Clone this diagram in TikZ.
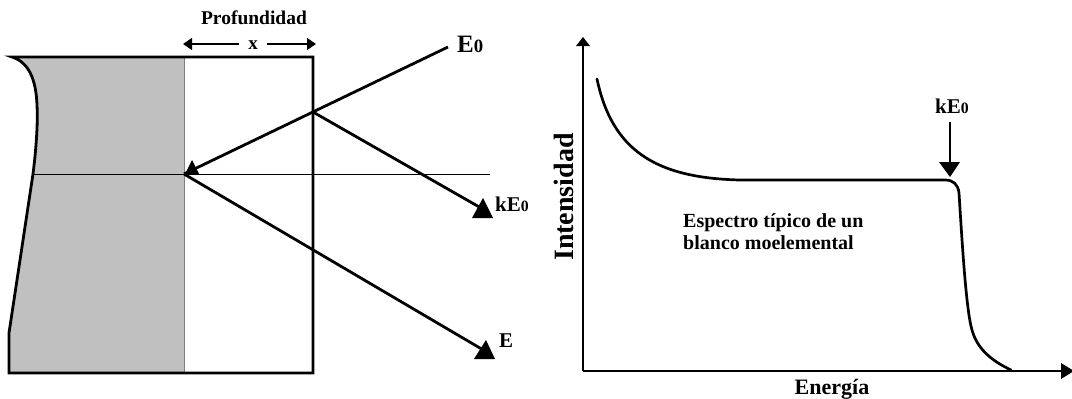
\documentclass[tikz,border=0pt]{standalone}
\usepackage{fontspec}
\setmainfont{Liberation Serif}
\usetikzlibrary{arrows.meta}
\tikzset{
  lbl/.style={font=\fontsize{#1pt}{#1pt}\selectfont\bfseries, inner sep=0pt},
  edgebox/.style={line width=2.8pt, line join=miter},
  ray/.style={line width=2.8pt},
  thin/.style={line width=0.8pt},
  tri/.style={fill=black},
  axis/.style={line width=2.8pt},
  curve/.style={line width=2.7pt, line cap=round},
  dim/.style={line width=1.3pt, -{Triangle[length=9pt,width=12pt]}}
}
\newcommand{\zsub}{{\fontsize{0.75em}{1em}\selectfont 0}}
\begin{document}
\begin{tikzpicture}[x=1pt,y=-1pt]
\useasboundingbox (0,0) rectangle (1072,399);
% ---------- left panel ----------
\coordinate (TL) at (12,57);
\coordinate (TR) at (313,57);
\coordinate (BR) at (313,373);
\coordinate (BL) at (9,373);
\coordinate (P) at (184,174);
\coordinate (S) at (313,112);
\coordinate (E0s) at (448,47);
\coordinate (kEend) at (481,208);
\coordinate (Eend) at (485,351);
\coordinate (DT) at (184,57);
\coordinate (DB) at (184,373);
\coordinate (HL) at (33,174);
\coordinate (HR) at (490,174);
\fill[fill={rgb,255:red,192;green,192;blue,192}]
  (TL) -- (DT) -- (DB) -- (BL) -- (9,333) -- (HL)
  .. controls (36,150) and (38,125) .. (37,105)
  .. controls (36,78) and (28,62) .. (TL);
\draw[line width=1pt, draw={rgb,255:red,128;green,128;blue,128}] (DT) -- (DB);
\draw[edgebox] (BL) -- (9,333) -- (HL)
  .. controls (36,150) and (38,125) .. (37,105)
  .. controls (36,78) and (28,62) .. (TL) -- (TR) -- (BR) -- cycle;
\draw[thin] (HL) -- (HR);
\draw[ray] (E0s) -- (P);
\draw[ray] (S) -- (kEend);
\draw[ray] (P) -- (Eend);
\fill[tri] (185,174) -- (199,174) -- (192,160) -- cycle;
\fill[tri] (472,218) -- (493,218) -- (483,198) -- cycle;
\fill[tri] (474,359) -- (495,359) -- (486,340) -- cycle;
\node[lbl=25, anchor=base west] (lE0) at (457,52) {E\zsub};
\node[lbl=21, anchor=base west] (lkE0) at (495,211) {kE\zsub};
\node[lbl=21, anchor=base west] (lE) at (499,347) {E};
\node[lbl=19.5, anchor=base] (prof) at (254,24) {Profundidad};
\node[lbl=19, anchor=base, inner xsep=9pt] (xl) at (253,49) {x};
\coordinate (xL) at (183,44);
\coordinate (xR) at (316,44);
\draw[dim] (xl.west |- xL) -- (xL);
\draw[dim] (xl.east |- xR) -- (xR);
% ---------- right panel ----------
\coordinate (O) at (583,371);
\coordinate (Ytop) at (583,42);
\coordinate (Xend) at (1064,371);
\draw[axis] (O) -- (Ytop);
\draw[axis] (O) -- (Xend);
\fill[tri] (576,46) -- (590,46) -- (583,37) -- cycle;
\fill[tri] (1061,363) -- (1061,379) -- (1074,371) -- cycle;
\draw[curve] (597,79) .. controls (612,150) and (655,178) .. (740,180)
  -- (945,180) .. controls (953,180) and (958,184) .. (959,193)
  .. controls (962,240) and (966,310) .. (972,330)
  .. controls (977,348) and (990,360) .. (1011,370);
\node[lbl=21, anchor=base west] (rkE0) at (935,113) {kE\zsub};
\coordinate (ka) at (950,122);
\coordinate (kb) at (950,165);
\draw[ray] (ka) -- (kb);
\fill[tri] (939,162) -- (960,162) -- (950,177) -- cycle;
\node[lbl=20, anchor=base west, align=left] (spec) at (683,249)
  {Espectro típico de un\\[2pt]blanco moelemental};
\node[lbl=28, anchor=base, rotate=90] (inten) at (573,197) {Intensidad};
\node[lbl=22, anchor=base] (ener) at (832,394) {Energía};
\end{tikzpicture}
\end{document}
